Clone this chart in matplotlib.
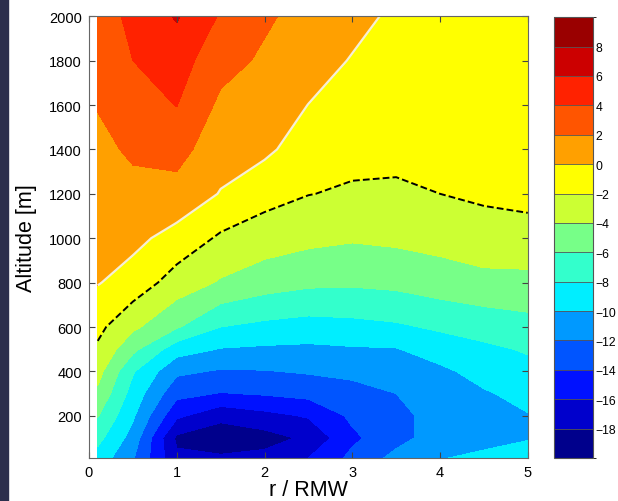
import numpy as np
import matplotlib
matplotlib.use('Agg')
import matplotlib.pyplot as plt
from matplotlib.colors import ListedColormap, BoundaryNorm
from matplotlib.patches import Rectangle

plt.rcParams['font.family'] = ['Liberation Sans', 'DejaVu Sans']

# radius normalised by radius of max wind, and altitude of the grid rows
r_rmw = [0.1, 0.5, 1.0, 1.5, 2.0, 2.5, 3.0, 3.5, 4.0, 4.5, 5.0]
alt_m = [10, 100, 200, 300, 400, 500, 600, 800, 1000, 1200, 1400, 1600, 1800, 2000]

# field values, one row per altitude (bottom to top)
anomaly = [
    [-8.8, -11.8, -17.6, -17.7, -17.4, -16.0, -13.5, -11.4, -10.1, -9.6, -9.3],
    [-7.4, -10.8, -18.4, -19.3, -18.8, -17.6, -14.4, -12.7, -11.0, -10.6, -10.1],
    [-5.9, -9.7, -15.6, -17.4, -16.6, -15.8, -13.6, -12.6, -11.2, -10.8, -10.1],
    [-4.4, -8.8, -13.4, -14.1, -13.8, -13.4, -12.6, -12.0, -10.9, -10.2, -9.4],
    [-3.3, -7.8, -11.6, -12.2, -12.1, -11.8, -11.6, -11.1, -10.4, -9.3, -8.6],
    [-2.3, -5.5, -9.1, -10.1, -10.3, -10.4, -10.2, -10.1, -9.1, -8.4, -7.8],
    [-1.5, -3.6, -5.8, -8.0, -8.5, -8.8, -8.6, -8.3, -7.7, -7.2, -6.7],
    [0.1, -0.8, -2.9, -4.2, -5.1, -5.6, -5.7, -5.5, -5.0, -4.6, -4.6],
    [0.55, 0.5, -0.7, -2.3, -3.0, -3.5, -3.8, -3.6, -3.3, -2.8, -2.6],
    [1.0, 1.45, 1.3, -0.1, -1.3, -1.95, -2.25, -2.3, -2.0, -1.7, -1.55],
    [1.5, 2.3, 2.7, 0.8, 0.4, -1.0, -1.4, -1.5, -1.4, -1.3, -1.2],
    [2.1, 3.2, 4.05, 1.6, 0.9, -0.02, -0.8, -1.1, -1.1, -1.0, -1.0],
    [2.7, 4.0, 4.9, 2.7, 1.7, 0.7, -0.1, -0.8, -0.8, -0.8, -0.8],
    [3.2, 4.4, 6.2, 3.8, 2.3, 1.3, 0.5, -0.3, -0.5, -0.6, -0.6],
]

levels = np.arange(-20, 11, 2)
cbar_ticks = np.arange(-18, 9, 2)

band_colors = ['#00008c', '#0000cc', '#0011ff', '#0055ff', '#0099ff',
               '#00eeff', '#33ffcc', '#77ff88', '#ccff33', '#ffff00',
               '#ffa000', '#ff5500', '#ff2200', '#cc0000', '#9a0000']
cmap = ListedColormap(band_colors)
norm = BoundaryNorm(levels, cmap.N)

R, Z = np.meshgrid(r_rmw, alt_m)
A = np.array(anomaly)

fig = plt.figure(figsize=(6.18, 5.02), dpi=100)
fig.add_artist(Rectangle((0, 0), 8 / 618, 1, transform=fig.transFigure,
                         color='#2c2f4d', zorder=-1))

ax = fig.add_axes([0.144, 0.0857, 0.710, 0.880])
cf = ax.contourf(R, Z, A, levels=levels, cmap=cmap, norm=norm)
ax.contour(R, Z, A, levels=[0], colors='#f6efd6', linewidths=1.6)
ax.contour(R, Z, A, levels=[-2], colors='k', linewidths=1.4,
           linestyles=[(0, (3.5, 1.6))])

ax.set_xlim(0, 5)
ax.set_ylim(alt_m[0], alt_m[-1])
ax.set_xticks(range(6))
ax.set_yticks(range(200, 2001, 200))
ax.tick_params(direction='in', top=True, right=True, length=4,
               labelsize=10.5, color='#444444', pad=5)
for s in ax.spines.values():
    s.set_color('#666666')
    s.set_linewidth(0.8)
ax.set_xlabel('r / RMW', fontsize=15.5)
ax.set_ylabel('Altitude [m]', fontsize=15.5)
ax.xaxis.set_label_coords(0.5, -0.048)
ax.yaxis.set_label_coords(-0.118, 0.5)

cax = fig.add_axes([0.896, 0.0857, 0.063, 0.878])
cb = fig.colorbar(cf, cax=cax, ticks=cbar_ticks, drawedges=True)
cb.dividers.set_color('#555555')
cb.dividers.set_linewidth(0.6)
cb.outline.set_edgecolor('#555555')
cb.outline.set_linewidth(0.8)
cax.tick_params(length=0, labelsize=8.7, pad=2)

fig.savefig('out.png', dpi=100)
